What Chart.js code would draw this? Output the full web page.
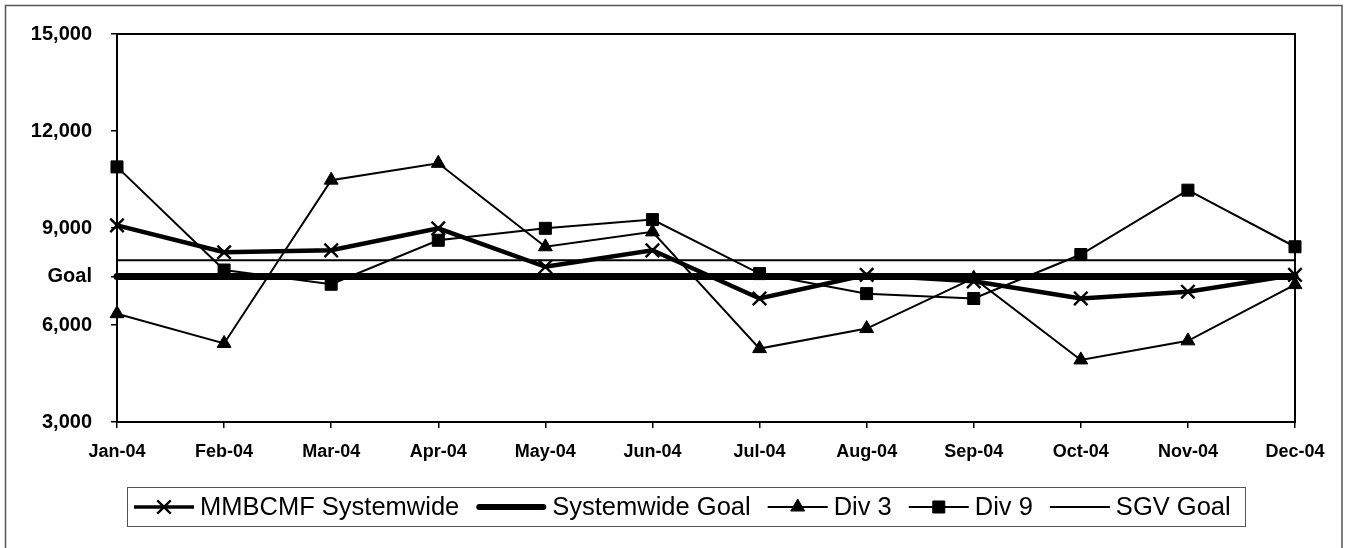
<!DOCTYPE html>
<html>
<head>
<meta charset="utf-8">
<script src="https://cdn.jsdelivr.net/npm/chart.js@4/dist/chart.umd.min.js"></script>
<style>
  html, body { margin: 0; padding: 0; background: #fff; }
  #wrap { width: 1345px; height: 548px; position: relative; }
</style>
</head>
<body>
<div id="wrap"><canvas id="c" width="1345" height="548"></canvas></div>
<script>
// Monthly categories
const months = ['Jan-04', 'Feb-04', 'Mar-04', 'Apr-04', 'May-04', 'Jun-04',
                'Jul-04', 'Aug-04', 'Sep-04', 'Oct-04', 'Nov-04', 'Dec-04'];

// Series values
const mmbcmfSystemwide = [9080, 8250, 8310, 8990, 7800, 8310, 6820, 7550, 7350, 6820, 7030, 7550];
const systemwideGoal   = [7500, 7500, 7500, 7500, 7500, 7500, 7500, 7500, 7500, 7500, 7500, 7500];
const div3             = [6350, 5430, 10480, 11000, 8420, 8880, 5270, 5890, 7450, 4920, 5510, 7250];
const div9             = [10890, 7700, 7260, 8620, 8990, 9260, 7590, 6970, 6820, 8180, 10170, 8420];
const sgvGoal          = [8000, 8000, 8000, 8000, 8000, 8000, 8000, 8000, 8000, 8000, 8000, 8000];

// Value axis ticks and their labels
const yTickValues = [3000, 6000, 7500, 9000, 12000, 15000];
const yTickLabels = ['3,000', '6,000', 'Goal', '9,000', '12,000', '15,000'];

const FONT = "'Liberation Sans', Arial, Helvetica, sans-serif";

// Plot-area box and outer frame
const framePlugin = {
  id: 'frames',
  beforeDatasetsDraw(chart) {
    const { ctx, chartArea: a } = chart;
    ctx.save();
    ctx.strokeStyle = '#000';
    ctx.lineWidth = 2;
    ctx.strokeRect(a.left, a.top, a.right - a.left, a.bottom - a.top);
    ctx.restore();
  },
  afterDraw(chart) {
    const { ctx } = chart;
    ctx.save();
    ctx.strokeStyle = '#555';
    ctx.lineWidth = 1.5;
    ctx.strokeRect(5.5, 5.5, 1336.5, 580);
    ctx.restore();
  }
};

// Boxed legend in a single row, line sample with marker drawn from each dataset's style
const legendPlugin = {
  id: 'boxLegend',
  afterDraw(chart) {
    const { ctx } = chart;
    const boxLeft = 127.5, boxTop = 487.5, boxRight = 1245.5, boxBottom = 526.5;
    const cy = (boxTop + boxBottom) / 2;
    ctx.save();
    ctx.strokeStyle = '#555';
    ctx.lineWidth = 1;
    ctx.strokeRect(boxLeft, boxTop, boxRight - boxLeft, boxBottom - boxTop);

    ctx.font = '25.5px ' + FONT;
    ctx.textBaseline = 'middle';
    ctx.textAlign = 'left';
    const gap = 6, spacing = 17;
    let x = 134;
    chart.data.datasets.forEach(ds => {
      const sample = ds.borderWidth > 5 ? 70 : 60;
      ctx.strokeStyle = ds.borderColor;
      ctx.lineWidth = Math.max(ds.borderWidth - 1, 2);
      ctx.lineCap = ds.borderCapStyle || 'butt';
      ctx.beginPath();
      const inset = ctx.lineCap === 'round' ? ctx.lineWidth / 2 : 0;
      ctx.moveTo(x + inset, cy);
      ctx.lineTo(x + sample - inset, cy);
      ctx.stroke();
      if (ds.pointRadius > 0) {
        ctx.fillStyle = ds.pointBackgroundColor;
        ctx.strokeStyle = ds.pointBorderColor;
        ctx.lineWidth = ds.pointBorderWidth;
        ctx.lineCap = 'butt';
        Chart.helpers.drawPoint(ctx, {
          pointStyle: ds.pointStyle,
          radius: ds.pointRadius,
          borderWidth: ds.pointBorderWidth,
          rotation: 0
        }, x + sample / 2, cy);
      }
      ctx.fillStyle = '#000';
      ctx.fillText(ds.label, x + sample + gap, cy + 1);
      x += sample + gap + ctx.measureText(ds.label).width + spacing;
    });
    ctx.restore();
  }
};

new Chart(document.getElementById('c'), {
  type: 'line',
  data: {
    labels: months,
    datasets: [
      {
        label: 'MMBCMF Systemwide',
        data: mmbcmfSystemwide,
        borderColor: '#000',
        borderWidth: 4.5,
        pointStyle: 'crossRot',
        pointRadius: 9.5,
        pointBorderWidth: 2.4,
        pointBorderColor: '#000',
        pointBackgroundColor: '#000',
        tension: 0,
        clip: false
      },
      {
        label: 'Systemwide Goal',
        data: systemwideGoal,
        borderColor: '#000',
        borderWidth: 7,
        borderCapStyle: 'round',
        pointRadius: 0,
        tension: 0,
        clip: false
      },
      {
        label: 'Div 3',
        data: div3,
        borderColor: '#000',
        borderWidth: 2,
        pointStyle: 'triangle',
        pointRadius: 8,
        pointBorderWidth: 1,
        pointBorderColor: '#000',
        pointBackgroundColor: '#000',
        tension: 0,
        clip: false
      },
      {
        label: 'Div 9',
        data: div9,
        borderColor: '#000',
        borderWidth: 2,
        pointStyle: 'rect',
        pointRadius: 8.5,
        pointBorderWidth: 1,
        pointBorderColor: '#000',
        pointBackgroundColor: '#000',
        tension: 0,
        clip: false
      },
      {
        label: 'SGV Goal',
        data: sgvGoal,
        borderColor: '#000',
        borderWidth: 2,
        pointRadius: 0,
        tension: 0,
        clip: false
      }
    ]
  },
  options: {
    responsive: false,
    animation: false,
    devicePixelRatio: 1,
    layout: { padding: { left: 0, right: 50, top: 34, bottom: 66 } },
    plugins: {
      legend: { display: false },
      tooltip: { enabled: false },
      title: { display: false }
    },
    scales: {
      x: {
        type: 'category',
        offset: false,
        grid: { display: true, drawOnChartArea: false, drawTicks: true, tickLength: 6, color: '#000', lineWidth: 1.5 },
        border: { display: true, color: '#000', width: 2 },
        ticks: {
          color: '#000',
          font: { family: FONT, size: 18, weight: 'bold' },
          padding: 13,
          maxRotation: 0,
          autoSkip: false
        },
        afterFit(scale) { scale.height = 60; }
      },
      y: {
        type: 'linear',
        min: 3000,
        max: 15000,
        grid: { display: true, drawOnChartArea: false, drawTicks: true, tickLength: 6, color: '#000', lineWidth: 1.5 },
        border: { display: true, color: '#000', width: 2 },
        afterBuildTicks(scale) {
          scale.ticks = yTickValues.map(v => ({ value: v }));
        },
        ticks: {
          color: '#000',
          font: { family: FONT, size: 20, weight: 'bold' },
          padding: 19,
          autoSkip: false,
          callback(value) {
            const i = yTickValues.indexOf(value);
            return i >= 0 ? yTickLabels[i] : '';
          }
        },
        afterFit(scale) { scale.width = 117; }
      }
    }
  },
  plugins: [framePlugin, legendPlugin]
});
</script>
</body>
</html>
